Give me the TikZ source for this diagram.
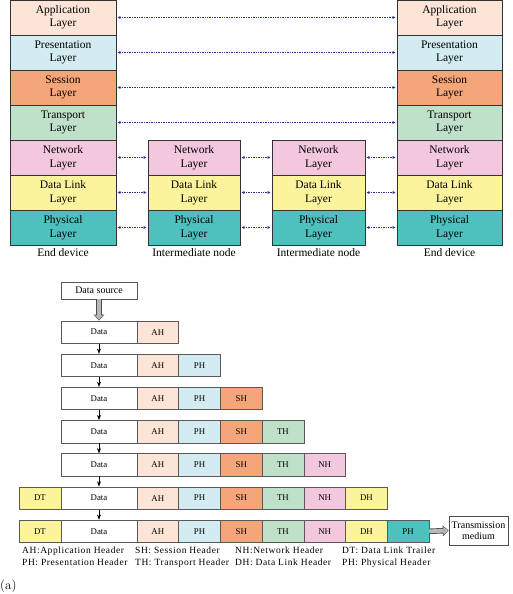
\documentclass[tikz,border=0pt]{standalone}
\usepackage{fontspec}
\setmainfont{Liberation Serif}
\newfontfamily\lmfont{Latin Modern Roman}
\usetikzlibrary{positioning,arrows.meta}

\definecolor{appcol}{HTML}{FCE4D6}
\definecolor{precol}{HTML}{D3ECF1}
\definecolor{sescol}{HTML}{F4A67A}
\definecolor{tracol}{HTML}{BFE0C9}
\definecolor{netcol}{HTML}{F3C7DD}
\definecolor{dlcol}{HTML}{FBF49D}
\definecolor{phycol}{HTML}{4EC0BD}
\definecolor{peercol}{HTML}{2E3192}

\begin{document}
\begin{tikzpicture}[x=1pt,y=-1pt,>=Stealth,
  layer/.style={draw=black!80,line width=0.7pt,fill=#1,minimum height=35,inner sep=0pt,
    align=center,font=\fontsize{11.5}{13.5}\selectfont},
  cell/.style={draw=black!65,line width=0.6pt,fill=#1,minimum height=22.5,minimum width=41.7,
    inner sep=0pt,font=\fontsize{8.8}{10}\selectfont},
  peer/.style={{Latex[length=3pt,width=3pt]}-{Latex[length=3pt,width=3pt]},draw=peercol,
    line width=0.5pt,dash pattern=on 1pt off 0.7pt,shorten <=1pt,shorten >=1pt},
  fatarrow/.style={draw=black!70,line width=5.5pt,-{Triangle[length=6pt,width=10.5pt]},
    postaction={draw=gray!55,line width=3.8pt,-{Triangle[length=4.4pt,width=7.8pt]},shorten >=0.9pt}},
  caption/.style={font=\fontsize{11.5}{13}\selectfont,inner sep=1pt}]
  \useasboundingbox (0,0) rectangle (513,594);

  % end devices: all seven layers
  \foreach \s/\x/\w in {L/63/106,R/449.5/105}{
    \foreach \n/\t/\c [count=\k] in {a/Application/appcol,p/Presentation/precol,s/Session/sescol,
        t/Transport/tracol,n/Network/netcol,d/Data Link/dlcol,f/Physical/phycol}
      \node[layer=\c,minimum width=\w] (\s\n) at (\x,{35*\k-17.5}) {\t\\Layer};
  }
  % intermediate nodes: lower three layers only
  \foreach \s/\x/\w in {M/194/92,N/318.5/93}{
    \foreach \n/\t/\c [count=\k from 5] in {n/Network/netcol,d/Data Link/dlcol,f/Physical/phycol}
      \node[layer=\c,minimum width=\w] (\s\n) at (\x,{35*\k-17.5}) {\t\\Layer};
  }

  % peer-to-peer links
  \foreach \n in {a,p,s,t}
    \draw[peer] (L\n.east) -- (R\n.west);
  \foreach \n in {n,d,f}{
    \draw[peer] (L\n.east) -- (M\n.west);
    \draw[peer] (M\n.east) -- (N\n.west);
    \draw[peer] (N\n.east) -- (R\n.west);
  }

  \node[caption,below=2pt of Lf] (capL) {End device};
  \node[caption,below=2pt of Mf] (capM) {Intermediate node};
  \node[caption,below=2pt of Nf] (capN) {Intermediate node};
  \node[caption,below=2pt of Rf] (capR) {End device};

  % encapsulation
  \node[cell=white,minimum width=76,minimum height=17,font=\fontsize{10}{12}\selectfont]
    (src) at (99,290.5) {Data source};
  \foreach \r in {1,...,7}{
    \node[cell=white,minimum width=76] (d\r) at (99,{298.9+33.2*\r}) {Data};
    \foreach \h/\c [count=\k] in {AH/appcol,PH/precol,SH/sescol,TH/tracol,NH/netcol,DH/dlcol,PH/phycol}{
      \ifnum\k>\r\relax\else
        \node[cell=\c] (h\r-\k) at ({137+41.7*(\k-0.5)},{298.9+33.2*\r}) {\h};
      \fi
    }
  }
  \foreach \r in {6,7}
    \node[cell=dlcol] (dt\r) at (40,{298.9+33.2*\r}) {DT};
  \foreach \r [count=\q from 2] in {1,...,6}
    \draw[->,line width=0.5pt] (d\r.south) -- (d\q.north);

  \node[draw=black!70,line width=0.6pt,fill=white,minimum width=59,minimum height=29,inner sep=0pt,
    align=center,font=\fontsize{10}{11.5}\selectfont] (tm) at (478.5,530.5) {Transmission\\medium};
  \draw[fatarrow] (src.south) -- (d1.north);
  \draw[fatarrow] (h7-7.east) -- (tm.west);

  % legend
  \begin{scope}[every node/.style={anchor=north west,align=left,inner sep=0pt,
      font=\fontsize{9.5}{12}\selectfont\addfontfeatures{LetterSpace=6}}]
    \node (lg1) at (22,547) {AH:Application Header\\PH: Presentation Header};
    \node (lg2) at (135,547) {SH: Session Header\\TH: Transport Header};
    \node (lg3) at (235,547) {NH:Network Header\\DH: Data Link Header};
    \node (lg4) at (342,547) {DT: Data Link Trailer\\PH: Physical Header};
  \end{scope}

  \node[anchor=west,inner sep=0pt,font=\lmfont\fontsize{13}{15}\selectfont] (lab) at (0,586) {(a)};
\end{tikzpicture}
\end{document}
